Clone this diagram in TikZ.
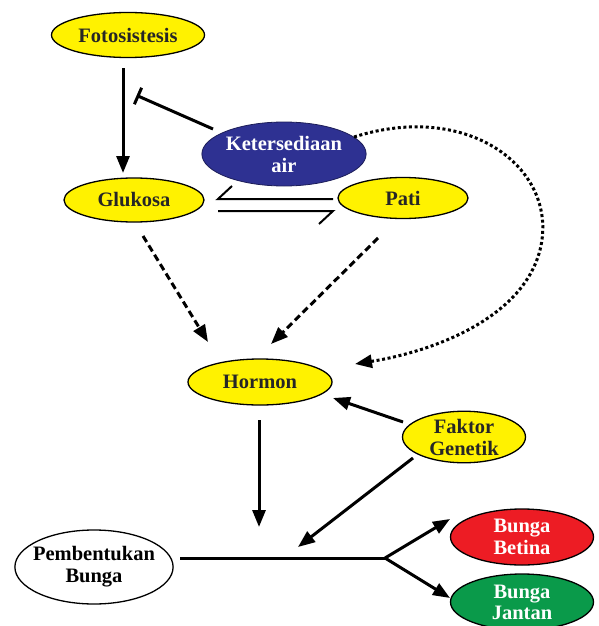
\documentclass[tikz,border=0pt]{standalone}
\usepackage{fontspec}
\setmainfont{Liberation Serif}
\usetikzlibrary{shapes.geometric,arrows.meta,calc}
\definecolor{yel}{HTML}{FFF200}
\definecolor{navy}{HTML}{2E3192}
\definecolor{rd}{HTML}{ED1C24}
\definecolor{gr}{HTML}{0A9A4A}
\begin{document}
\begin{tikzpicture}[x=1pt,y=-1pt,
  ell/.style={ellipse,draw=black,line width=1.3pt,inner sep=0pt,align=center,
     font=\bfseries\fontsize{20.5}{22}\selectfont},
  yell/.style={ell,fill=yel,text=black!85},
  arr/.style={line width=3pt,-{Triangle[length=17pt,width=13pt]}},
  ln/.style={line width=3pt},
  dsh/.style={arr,dash pattern=on 7pt off 4pt},
  dtt/.style={arr,dash pattern=on 3pt off 2.6pt}]
\useasboundingbox (0,0) rectangle (599,626);
\node[yell,minimum width=153pt,minimum height=45pt] (foto) at (128,35) {Fotosistesis};
\node[yell,minimum width=140pt,minimum height=44pt] (glu) at (134,200) {Glukosa};
\node[ell,fill=navy,text=white,minimum width=155pt,minimum height=64pt,line width=0.8pt,draw=navy!60!black] (air) at (284,154) {Ketersediaan\\air};
\node[yell,minimum width=130pt,minimum height=41pt] (pati) at (403,198) {Pati};
\node[yell,minimum width=144pt,minimum height=46pt] (hor) at (260,382) {Hormon};
\node[yell,minimum width=123pt,minimum height=48pt] (fak) at (464,437) {Faktor\\Genetik};
\node[ell,fill=rd,text=white,minimum width=143pt,minimum height=56pt] (bet) at (522,537) {Bunga\\Betina};
\node[ell,fill=gr,text=white,minimum width=143pt,minimum height=56pt,font=\bfseries\fontsize{20.5}{21}\selectfont] (jan) at (522,602) {Bunga\\Jantan};
\node[ell,fill=white,minimum width=158pt,minimum height=74pt,inner xsep=-5pt] (pem) at (94,567) {Pembentukan\\Bunga};
% coordinates
\coordinate (fs) at (123,68);
\coordinate (ft) at (123,173);
\coordinate (inS) at (213,129);
\coordinate (inE) at (138,96);
\coordinate (eqA) at (218,199);
\coordinate (eqB) at (333,199);
\coordinate (eqC) at (218,211);
\coordinate (eqD) at (333,211);
\coordinate (gS) at (143,236);
\coordinate (gT) at (208,342);
\coordinate (pS) at (378,238);
\coordinate (pT) at (271,344);
\coordinate (aS) at (354,137);
\coordinate (aT) at (355,364);
\coordinate (hS) at (259,420);
\coordinate (hT) at (259,527);
\coordinate (fkS) at (403,422);
\coordinate (fkT) at (333,398);
\coordinate (fjS) at (413,458);
\coordinate (fjT) at (298,547);
\coordinate (pmS) at (180,558);
\coordinate (br) at (385,558);
\coordinate (btT) at (450,519);
\coordinate (jnT) at (450,598);
% connectors
\draw[arr] (fs) -- (ft);
\draw[ln] (inS) -- (inE);
\draw[ln] ($(inE)!9pt!90:(inS)$) -- ($(inE)!9pt!-90:(inS)$);
\draw[line width=2pt] (eqB) -- (eqA) -- (232,186);
\draw[line width=2pt] (eqC) -- (eqD) -- (319,224);
\draw[dsh] (gS) -- (gT);
\draw[dsh] (pS) -- (pT);
\draw[dtt] (aS) .. controls (470,100) and (560,170) .. (540,250) .. controls (522,320) and (430,352) .. (aT);
\draw[arr] (hS) -- (hT);
\draw[arr] (fkS) -- (fkT);
\draw[arr] (fjS) -- (fjT);
\draw[ln] (pmS) -- (br);
\draw[arr] (br) -- (btT);
\draw[arr] (br) -- (jnT);
\end{tikzpicture}
\end{document}
